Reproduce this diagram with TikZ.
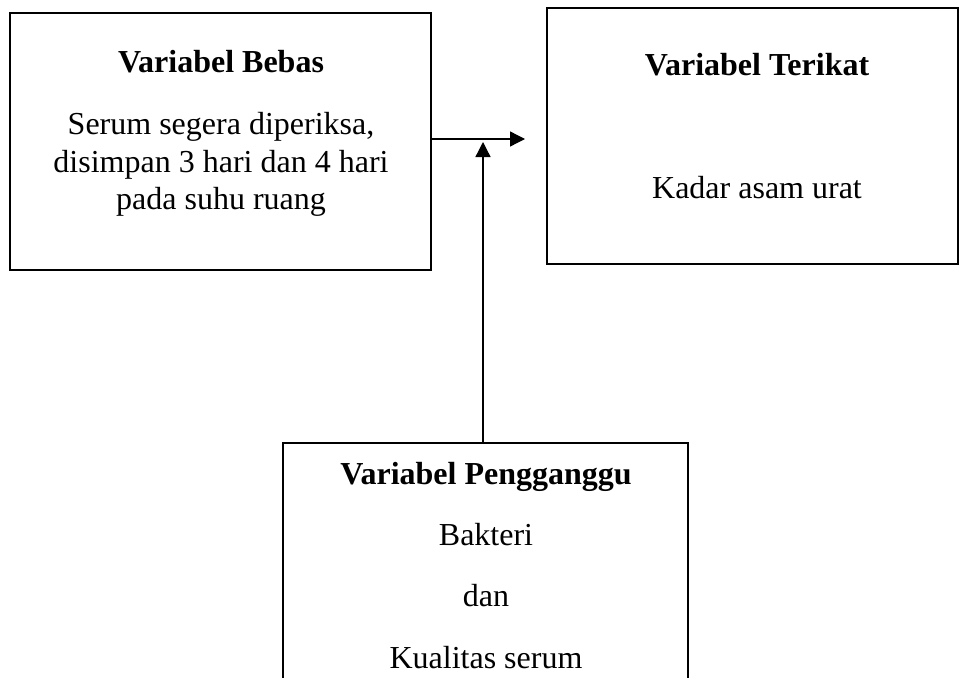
\documentclass[tikz,border=0pt]{standalone}
\usepackage{fontspec}
\setmainfont{Liberation Serif}
\usepackage{tikz}
\usetikzlibrary{arrows.meta,positioning,calc}

\tikzset{
  kotak/.style={draw, line width=2.9pt, minimum width=#1, inner sep=0pt},
  judul/.style={anchor=base, inner sep=0pt, font=\fontsize{32}{38}\selectfont\bfseries},
  isi/.style={anchor=base, inner sep=0pt, font=\fontsize{32}{38}\selectfont},
  panah/.style={line width=1.3pt, -{Triangle[length=15pt,width=15pt]}}
}

\begin{document}
\begin{tikzpicture}[x=1pt,y=-1pt]
    \useasboundingbox (0,0) rectangle (960,677);
    \clip (0,0) rectangle (960,677);

    % kotak variabel
    \node [kotak=421pt, minimum height=257pt] (bebas) at (220.5,141.5) {};
    \node [kotak=411pt, minimum height=256pt] (terikat) at (752.5,136) {};
    \node [kotak=405pt, minimum height=290pt] (ganggu) at (485.5,588) {};

    % teks
    \node [judul] (bebasJ) at (221,72) {Variabel Bebas};
    \node [isi] (bebas1) at (221,134) {Serum segera diperiksa,};
    \node [isi] (bebas2) at (221,172) {disimpan 3 hari dan 4 hari};
    \node [isi] (bebas3) at (221,209) {pada suhu ruang};

    \node [judul] (terikatJ) at (757,75) {Variabel Terikat};
    \node [isi] (terikat1) at (757,198) {Kadar asam urat};

    \node [judul] (gangguJ) at (486,484) {Variabel Pengganggu};
    \node [isi] (ganggu1) at (486,545) {Bakteri};
    \node [isi] (ganggu2) at (486,606) {dan};
    \node [isi] (ganggu3) at (486,668) {Kualitas serum};

    % panah
    \coordinate (ujung) at (525,139);
    \coordinate (puncak) at (483,142);
    \draw [panah] (bebas.east |- ujung) -- (ujung);
    \draw [panah] (ganggu.north -| puncak) -- (puncak);
\end{tikzpicture}
\end{document}
